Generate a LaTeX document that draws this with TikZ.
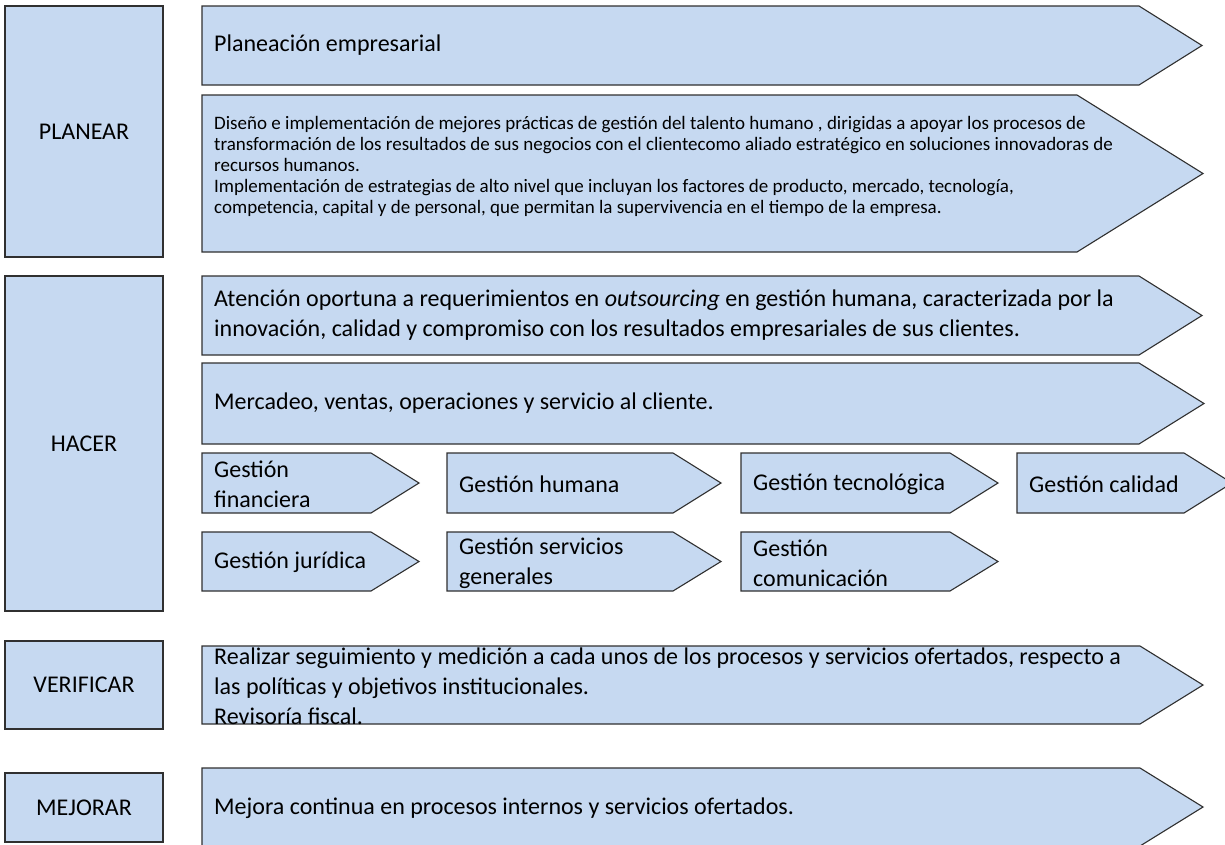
\documentclass[tikz,border=0pt]{standalone}
\usepackage{fontspec}
\setmainfont{Carlito}
\definecolor{boxblue}{HTML}{C6D9F1}
\definecolor{edgecol}{HTML}{303030}
\begin{document}
\begin{tikzpicture}[x=1pt,y=-1pt,
  shapebox/.style={fill=boxblue,draw=edgecol,line width=1.1pt,line join=miter},
  bigtxt/.style={font=\fontsize{24}{30}\selectfont,inner sep=0pt,align=left,anchor=west,text=black},
  smalltxt/.style={font=\fontsize{19}{21}\selectfont,inner sep=0pt,align=left,anchor=west,text=black},
  phaselbl/.style={shapebox,font=\fontsize{24}{30}\selectfont,inner sep=0pt,text=black}]
\useasboundingbox (0,0) rectangle (1225,844);
\fill[white] (0,0) rectangle (1225,844);

% phase boxes
\node[phaselbl,minimum width=158,minimum height=251] (planear) at (84,131.5) {PLANEAR};
\node[phaselbl,minimum width=158,minimum height=335] (hacer) at (84,443.5) {HACER};
\node[phaselbl,minimum width=158,minimum height=88] (verificar) at (84,685) {VERIFICAR};
\node[phaselbl,minimum width=158,minimum height=69] (mejorar) at (84,807.5) {MEJORAR};

% PLANEAR chevrons
\draw[shapebox] (202,6) -- (1139,6) -- (1202,45.5) -- (1139,85) -- (202,85) -- cycle;
\node[bigtxt] (planeacion) at (214,45.5) {Planeación empresarial};

\draw[shapebox] (202,95) -- (1077,95) -- (1203,173.5) -- (1077,252) -- (202,252) -- cycle;
\node[smalltxt] (diseno) at (214,166) {Diseño e implementación de mejores prácticas de gestión del talento humano , dirigidas a apoyar los procesos de\\
transformación de los resultados de sus negocios con el clientecomo aliado estratégico en soluciones innovadoras de\\
recursos humanos.\\
Implementación de estrategias de alto nivel que incluyan los factores de producto, mercado, tecnología,\\
competencia, capital y de personal, que permitan la supervivencia en el tiempo de la empresa.};

% HACER chevrons
\draw[shapebox] (202,276) -- (1139,276) -- (1202,315.5) -- (1139,355) -- (202,355) -- cycle;
\node[bigtxt] (atencion) at (214,315.5) {Atención oportuna a requerimientos en \textit{outsourcing} en gestión humana, caracterizada por la\\
innovación, calidad y compromiso con los resultados empresariales de sus clientes.};

\draw[shapebox] (202,363) -- (1139,363) -- (1204,403.5) -- (1139,444) -- (202,444) -- cycle;
\node[bigtxt] (mercadeo) at (214,403.5) {Mercadeo, ventas, operaciones y servicio al cliente.};

% small chevrons row 1
\draw[shapebox] (202,453) -- (371,453) -- (419,483) -- (371,513) -- (202,513) -- cycle;
\node[bigtxt] (financiera) at (214,484) {Gestión\\financiera};
\draw[shapebox] (447,453) -- (673,453) -- (721,483) -- (673,513) -- (447,513) -- cycle;
\node[bigtxt] (humana) at (459,484) {Gestión humana};
\draw[shapebox] (741,453) -- (950,453) -- (998,483) -- (950,513) -- (741,513) -- cycle;
\node[bigtxt] (tecnologica) at (753,484) {Gestión tecnológica};
\draw[shapebox] (1017,453) -- (1184,453) -- (1232,483) -- (1184,513) -- (1017,513) -- cycle;
\node[bigtxt] (calidad) at (1029,484) {Gestión calidad};

% small chevrons row 2
\draw[shapebox] (202,532) -- (371,532) -- (419,561.5) -- (371,591) -- (202,591) -- cycle;
\node[bigtxt] (juridica) at (214,562.5) {Gestión jurídica};
\draw[shapebox] (447,532) -- (673,532) -- (721,561.5) -- (673,591) -- (447,591) -- cycle;
\node[bigtxt] (servicios) at (459,563) {Gestión servicios\\generales};
\draw[shapebox] (741,532) -- (950,532) -- (998,561.5) -- (950,591) -- (741,591) -- cycle;
\node[bigtxt] (comunicacion) at (753,563) {Gestión\\comunicación};

% VERIFICAR chevron
\draw[shapebox] (202,646) -- (1140,646) -- (1203,685) -- (1140,724) -- (202,724) -- cycle;
\node[bigtxt] (seguimiento) at (214,686.5) {Realizar seguimiento y medición a cada unos de los procesos y servicios ofertados, respecto a\\
las políticas y objetivos institucionales.\\
Revisoría fiscal.};

% MEJORAR chevron
\draw[shapebox] (202,768) -- (1140,768) -- (1203,807) -- (1140,846) -- (202,846) -- cycle;
\node[bigtxt] (mejora) at (214,808) {Mejora continua en procesos internos y servicios ofertados.};
\end{tikzpicture}
\end{document}
